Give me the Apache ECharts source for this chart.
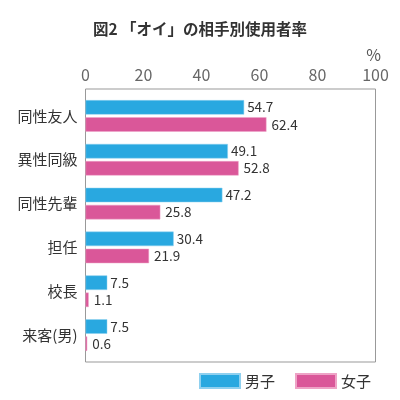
<!DOCTYPE html>
<html><head><meta charset="utf-8">
<script src="https://cdn.jsdelivr.net/npm/echarts@6/dist/echarts.min.js"></script>
<style>html,body{margin:0;padding:0;background:#fff}#c{width:400px;height:400px}</style>
</head><body><div id="c"></div>
<script>
const categories = ['同性友人','異性同級','同性先輩','担任','校長','来客(男)'];
const boys = [54.7, 49.1, 47.2, 30.4, 7.5, 7.5];
const girls = [62.4, 52.8, 25.8, 21.9, 1.1, 0.6];
const seriesNames = ['男子','女子'];
const xTicks = [0,20,40,60,80,100];

const font = '"Noto Sans CJK JP", "Noto Sans", sans-serif';
const chart = echarts.init(document.getElementById('c'));
chart.setOption({
  animation:false,
  textStyle:{fontFamily:font},
  title:[
    {text:'図2 「オイ」の相手別使用者率', left:'center', top:16, textStyle:{fontSize:15.5, fontWeight:'bold', color:'#333', fontFamily:font}},
    {text:'%', right:14, top:42, textStyle:{fontSize:16, fontWeight:'normal', color:'#555', fontFamily:font}}
  ],
  legend:{
    data:seriesNames, right:24, top:368, itemWidth:40, itemHeight:14, itemGap:20, icon:'rect',
    textStyle:{fontSize:15, color:'#333', fontFamily:font}
  },
  grid:[
    {left:85.5, right:24.5, top:89, bottom:38, show:true, borderColor:'#999', borderWidth:1, containLabel:false},
    {left:85.5, right:24.5, top:94, bottom:43, containLabel:false}
  ],
  xAxis:[
    {gridIndex:0, type:'value', min:0, max:100, show:false},
    {gridIndex:1, type:'value', min:0, max:100, interval:20, position:'top',
     axisLine:{show:false}, axisTick:{show:false}, splitLine:{show:false},
     axisLabel:{fontSize:16, color:'#666', margin:11, fontFamily:font,
       formatter:v=>xTicks.includes(v)?String(v):''}}
  ],
  yAxis:[
    {gridIndex:0, type:'value', show:false},
    {gridIndex:1, type:'category', data:categories, inverse:true,
     axisLine:{show:false}, axisTick:{show:false},
     axisLabel:{fontSize:15, color:'#333', margin:8, fontFamily:font}}
  ],
  series:[
    {name:seriesNames[0], type:'bar', xAxisIndex:1, yAxisIndex:1, data:boys, barWidth:14.5, barGap:'18%',
     itemStyle:{color:'#29A8E0', borderColor:'#8fd0ef', borderWidth:0.5},
     label:{show:true, position:'right', distance:3, fontSize:13.5, color:'#333', fontFamily:font}},
    {name:seriesNames[1], type:'bar', xAxisIndex:1, yAxisIndex:1, data:girls, barWidth:14.5, barGap:'18%',
     itemStyle:{color:'#DA5799', borderColor:'#eea3c6', borderWidth:0.5},
     label:{show:true, position:'right', distance:5, fontSize:13.5, color:'#333', fontFamily:font}}
  ]
});
</script></body></html>
